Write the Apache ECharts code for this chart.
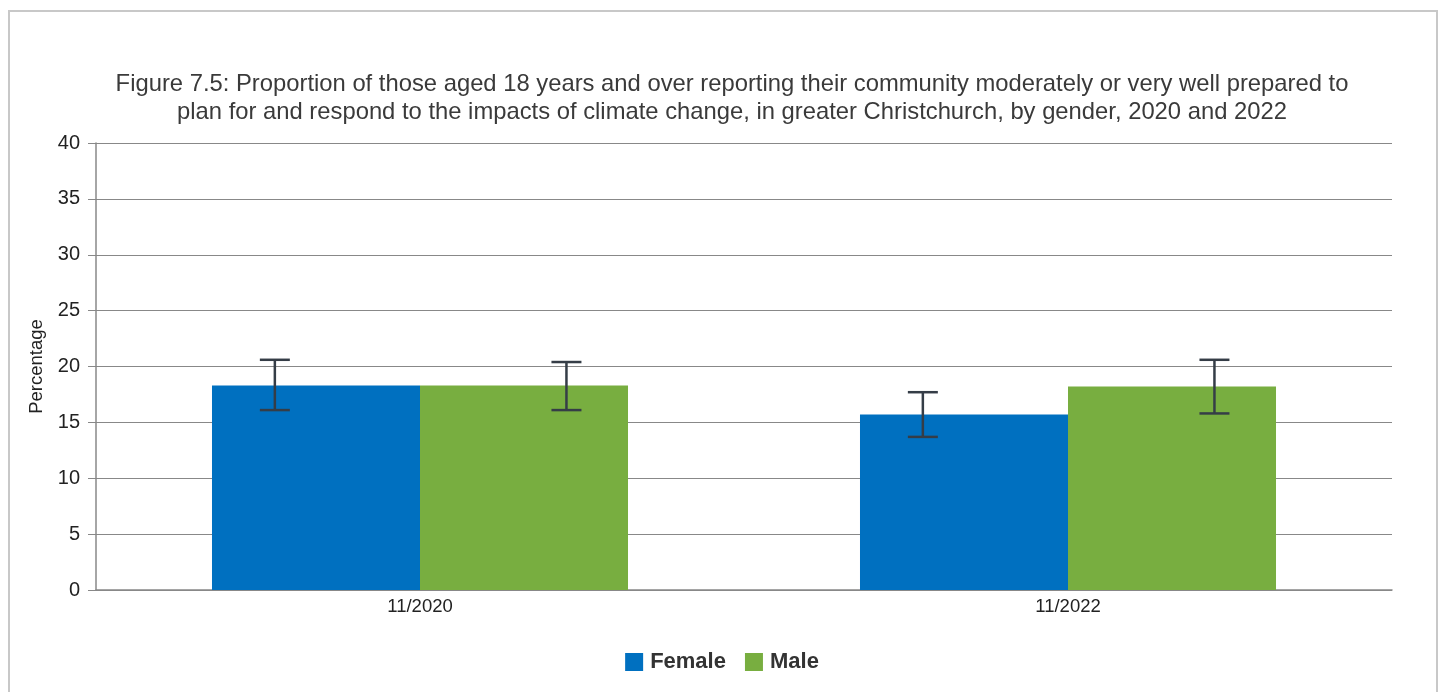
<!DOCTYPE html>
<html>
<head>
<meta charset="utf-8">
<script src="https://cdn.jsdelivr.net/npm/echarts@6/dist/echarts.min.js"></script>
<style>
html, body { margin: 0; padding: 0; background: #fff; }
#chart { width: 1444px; height: 692px; }
</style>
</head>
<body>
<div id="chart"></div>
<script>
// data
var categories = ['11/2020', '11/2022'];
var femaleValues = [18.3, 15.7];
var maleValues = [18.3, 18.2];
var femaleLow = [16.1, 13.7];
var femaleHigh = [20.6, 17.7];
var maleLow = [16.1, 15.8];
var maleHigh = [20.4, 20.6];
var yTicks = [0, 5, 10, 15, 20, 25, 30, 35, 40];

function errorData(low, high) {
    var out = [];
    for (var i = 0; i < categories.length; i++)
        out.push([i, low[i], high[i]]);
    return out;
}

// error bar drawn off the bar centre, as in the original
function errorRenderer(shift) {
    return function (params, api) {
        var idx = api.value(0);
        var lowPt = api.coord([idx, api.value(1)]);
        var highPt = api.coord([idx, api.value(2)]);
        var band = api.size([1, 0])[0];
        var x = lowPt[0] + band * shift;
        var half = 15;
        var style = { stroke: '#353d47', lineWidth: 2.5 };
        return {
            type: 'group',
            children: [
                { type: 'line', shape: { x1: x, y1: highPt[1], x2: x, y2: lowPt[1] }, style: style },
                { type: 'line', shape: { x1: x - half, y1: highPt[1], x2: x + half, y2: highPt[1] }, style: style },
                { type: 'line', shape: { x1: x - half, y1: lowPt[1], x2: x + half, y2: lowPt[1] }, style: style }
            ]
        };
    };
}

var chartDom = document.getElementById('chart');
var myChart = echarts.init(chartDom);
var option = {
    backgroundColor: '#fff',
    textStyle: { fontFamily: 'Liberation Sans, Arial, sans-serif' },
    graphic: [
        {
            type: 'rect',
            shape: { x: 9, y: 11, width: 1428, height: 700 },
            style: { fill: 'none', stroke: '#c8c8c8', lineWidth: 2 },
            silent: true
        }
    ],
    title: {
        text: 'Figure 7.5: Proportion of those aged 18 years and over reporting their community moderately or very well prepared to\nplan for and respond to the impacts of climate change, in greater Christchurch, by gender, 2020 and 2022',
        left: 727,
        top: 65,
        textAlign: 'center',
        textStyle: {
            fontSize: 23.8,
            fontWeight: 'normal',
            color: '#3a3a3a',
            lineHeight: 28,
            fontFamily: 'Liberation Sans, Arial, sans-serif'
        }
    },
    legend: {
        data: ['Female', 'Male'],
        top: 646,
        left: 'center',
        icon: 'rect',
        itemWidth: 18,
        itemHeight: 18,
        itemGap: 19,
        textStyle: { fontSize: 22, fontWeight: 'bold', color: '#333', padding: [0, 0, 0, 2] }
    },
    grid: {
        left: 96,
        right: 52,
        top: 143,
        bottom: 102
    },
    xAxis: {
        type: 'category',
        data: categories,
        axisLine: { lineStyle: { color: '#888', width: 1.5 } },
        axisTick: { alignWithLabel: true, length: 5, lineStyle: { color: '#888' } },
        axisLabel: { fontSize: 18.5, color: '#222', margin: 7 }
    },
    yAxis: {
        type: 'value',
        min: yTicks[0],
        max: yTicks[yTicks.length - 1],
        interval: 5,
        name: 'Percentage',
        nameLocation: 'middle',
        nameGap: 43,
        nameTextStyle: { fontSize: 18.5, color: '#222' },
        axisLine: { show: true, lineStyle: { color: '#888', width: 1.5 } },
        axisTick: { show: true, length: 8, lineStyle: { color: '#888' } },
        axisLabel: { fontSize: 20, color: '#222', margin: 16 },
        splitLine: { lineStyle: { color: '#888', width: 1 } }
    },
    series: [
        {
            name: 'Female',
            type: 'bar',
            data: femaleValues,
            barGap: '0%',
            barCategoryGap: '35.8%',
            itemStyle: { color: '#0070c0' }
        },
        {
            name: 'Male',
            type: 'bar',
            data: maleValues,
            itemStyle: { color: '#78ae40' }
        },
        {
            name: 'Female error',
            type: 'custom',
            renderItem: errorRenderer(-0.224),
            data: errorData(femaleLow, femaleHigh),
            encode: { x: 0, y: [1, 2] },
            z: 10
        },
        {
            name: 'Male error',
            type: 'custom',
            renderItem: errorRenderer(0.226),
            data: errorData(maleLow, maleHigh),
            encode: { x: 0, y: [1, 2] },
            z: 10
        }
    ]
};

myChart.setOption(option);
</script>
</body>
</html>
